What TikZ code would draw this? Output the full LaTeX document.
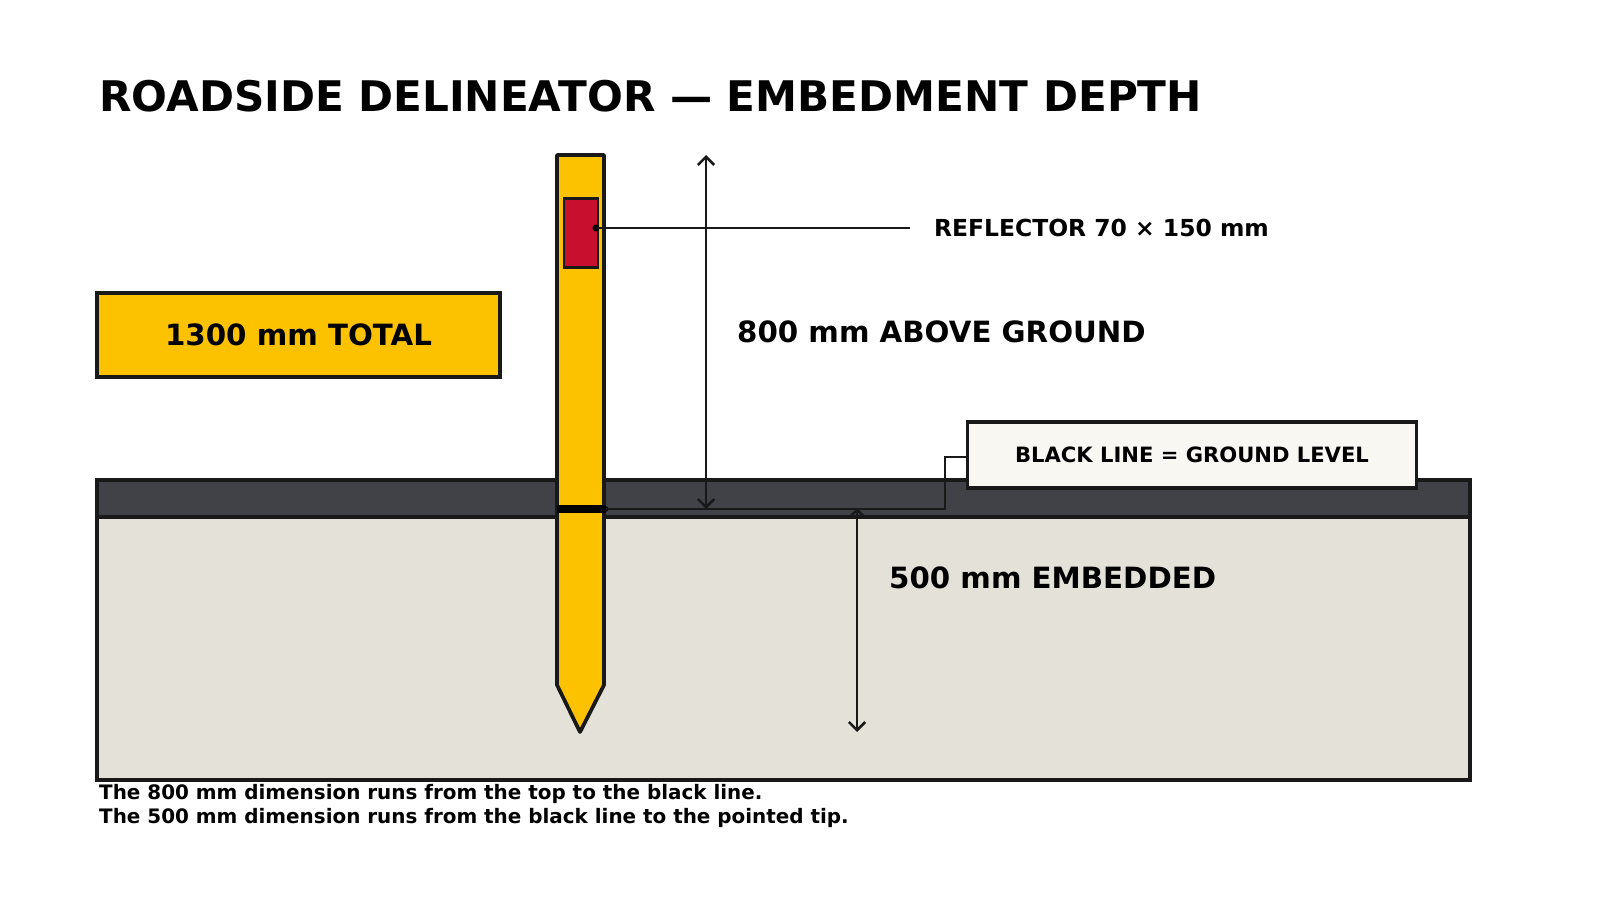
\documentclass[tikz,border=0pt]{standalone}
\usetikzlibrary{arrows.meta}
\usepackage{fontspec}
\setmainfont{DejaVu Sans}
\begin{document}
\begin{tikzpicture}[x=0.3mm,y=-0.3mm,
  ol/.style={draw=black!90,line width=3.2pt},
  dim/.style={draw=black!90,line width=2.2pt,-{Straight Barb[length=7pt,width=14pt,line width=2.2pt]}},
  big/.style={font=\fontsize{25}{28}\selectfont\bfseries,anchor=west},
  lead/.style={draw=black!90,line width=2pt}]
\useasboundingbox (0,0) rectangle (1600,900);
% ground
\path[ol,fill={rgb,255:red,228;green,226;blue,216}] (97,517) rectangle (1470,780);
\path[ol,fill={rgb,255:red,64;green,66;blue,72}] (97,480) rectangle (1470,517);
% post
\path[ol,fill={rgb,255:red,252;green,194;blue,0},line join=round] (557,155) -- (604,155) -- (604,685) -- (580,732) -- (557,685) -- cycle;
\node[ol,fill={rgb,255:red,200;green,16;blue,46},minimum width=34*0.3mm,minimum height=69*0.3mm,inner sep=0pt,line width=2.5pt] (refl) at (581,233) {};
\coordinate (rdot) at (596,228);
\fill (rdot) circle (3pt);
\node[anchor=west,font=\fontsize{20}{24}\selectfont\bfseries] (rlab) at (930,228) {REFLECTOR 70 × 150 mm};
\draw[lead] (rdot) -- (910,228);
% black line marker
\coordinate (bl) at (606,509);
\draw[line width=7pt] (557,509) -- (bl);
\fill (bl) circle (2.2pt);
\node[ol,fill={rgb,255:red,248;green,247;blue,242},minimum width=449*0.3mm,minimum height=66*0.3mm,inner sep=0pt,font=\fontsize{18}{22}\selectfont\bfseries] (glab) at (1192,455) {BLACK LINE = GROUND LEVEL};
\draw[lead] (bl) -- (945,509) -- (945,457) -- (glab.west |- 0,457);
% dims
\coordinate (a1) at (706,509); \coordinate (a2) at (706,155);
\draw[dim] (706,330) -- (a2); \draw[dim] (706,330) -- (a1);
\coordinate (b1) at (857,508); \coordinate (b2) at (857,732);
\draw[dim] (857,620) -- (b1); \draw[dim] (857,620) -- (b2);
\node[big] (t800) at (733,332) {800 mm ABOVE GROUND};
\node[big] (t500) at (885,578) {500 mm EMBEDDED};
\node[ol,fill={rgb,255:red,252;green,194;blue,0},minimum width=403*0.3mm,minimum height=84*0.3mm,inner sep=0pt,font=\fontsize{25}{28}\selectfont\bfseries] (tot) at (298.5,335) {1300 mm TOTAL};
\node[anchor=west,font=\fontsize{36}{40}\selectfont\bfseries] (title) at (95,96) {ROADSIDE DELINEATOR — EMBEDMENT DEPTH};
\node[anchor=north west,align=left,font=\fontsize{17}{21}\selectfont\bfseries,inner sep=0pt] (note) at (99,784) {The 800 mm dimension runs from the top to the black line.\\The 500 mm dimension runs from the black line to the pointed tip.};
\end{tikzpicture}
\end{document}
